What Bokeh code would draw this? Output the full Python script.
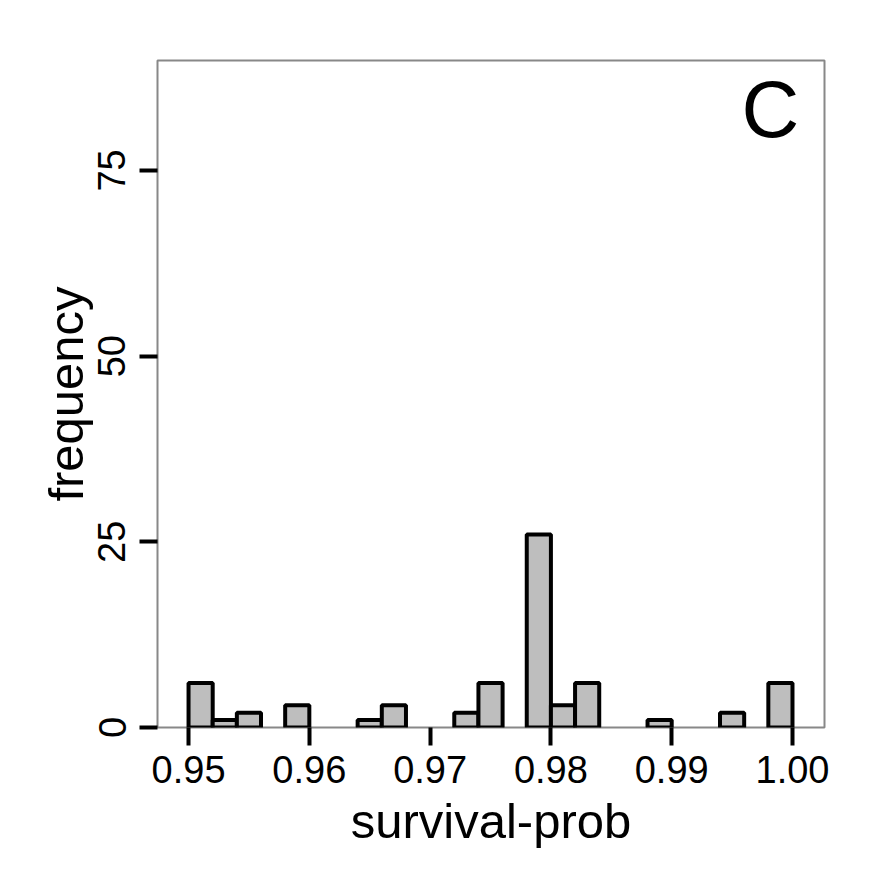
from bokeh.plotting import figure
from bokeh.models import Range1d, FixedTicker, Label
from bokeh.embed import file_html
from bokeh.resources import INLINE

# histogram bins (centre of each non-empty bin) and counts
bin_centers = [0.951, 0.953, 0.955, 0.959, 0.965, 0.967, 0.973, 0.975,
               0.979, 0.981, 0.983, 0.989, 0.995, 0.999]
counts = [6, 1, 2, 3, 1, 3, 2, 6, 26, 3, 6, 1, 2, 6]
bin_width = 0.002
x_ticks = [0.95, 0.96, 0.97, 0.98, 0.99, 1.00]
x_tick_labels = ["0.95", "0.96", "0.97", "0.98", "0.99", "1.00"]
y_ticks = [0, 25, 50, 75]
panel_tag = "C"

FONT = "Liberation Sans"

p = figure(width=877, height=877, output_backend="svg", toolbar_location=None,
           x_range=Range1d(0.94743, 1.00265), y_range=Range1d(0, 89.8),
           min_border_left=157, min_border_top=60, min_border_right=53,
           min_border_bottom=150)

p.vbar(x=bin_centers, width=bin_width, top=counts, bottom=0,
       fill_color="#BEBEBE", line_color="black", line_width=4)

p.grid.visible = False
p.background_fill_color = "white"
p.border_fill_color = "white"
p.outline_line_color = "#888888"
p.outline_line_width = 2

for ax in (p.xaxis[0], p.yaxis[0]):
    ax.axis_line_color = None
    ax.major_tick_line_color = "black"
    ax.major_tick_line_width = 4
    ax.major_tick_out = 18
    ax.major_tick_in = 0
    ax.minor_tick_line_color = None
    ax.major_label_text_font = FONT
    ax.major_label_text_font_size = "38px"
    ax.major_label_text_color = "black"
    ax.axis_label_text_font = FONT
    ax.axis_label_text_font_size = "49px"
    ax.axis_label_text_font_style = "normal"
    ax.axis_label_text_color = "black"

p.xaxis[0].ticker = FixedTicker(ticks=x_ticks)
p.xaxis[0].major_label_overrides = {t: l for t, l in zip(x_ticks, x_tick_labels)}
p.xaxis[0].major_label_standoff = 10
p.xaxis[0].axis_label = "survival-prob"
p.xaxis[0].axis_label_standoff = 8

p.yaxis[0].ticker = FixedTicker(ticks=y_ticks)
p.yaxis[0].major_label_orientation = "parallel"
p.yaxis[0].major_label_standoff = 14
p.yaxis[0].axis_label = "frequency"
p.yaxis[0].axis_label_standoff = 3

p.add_layout(Label(x=0.99818, y=83.2, text=panel_tag, text_align="center",
                   text_baseline="alphabetic", text_font=FONT,
                   text_font_size="80px", text_color="black"))

open("out.html", "w").write(file_html(p, INLINE))
